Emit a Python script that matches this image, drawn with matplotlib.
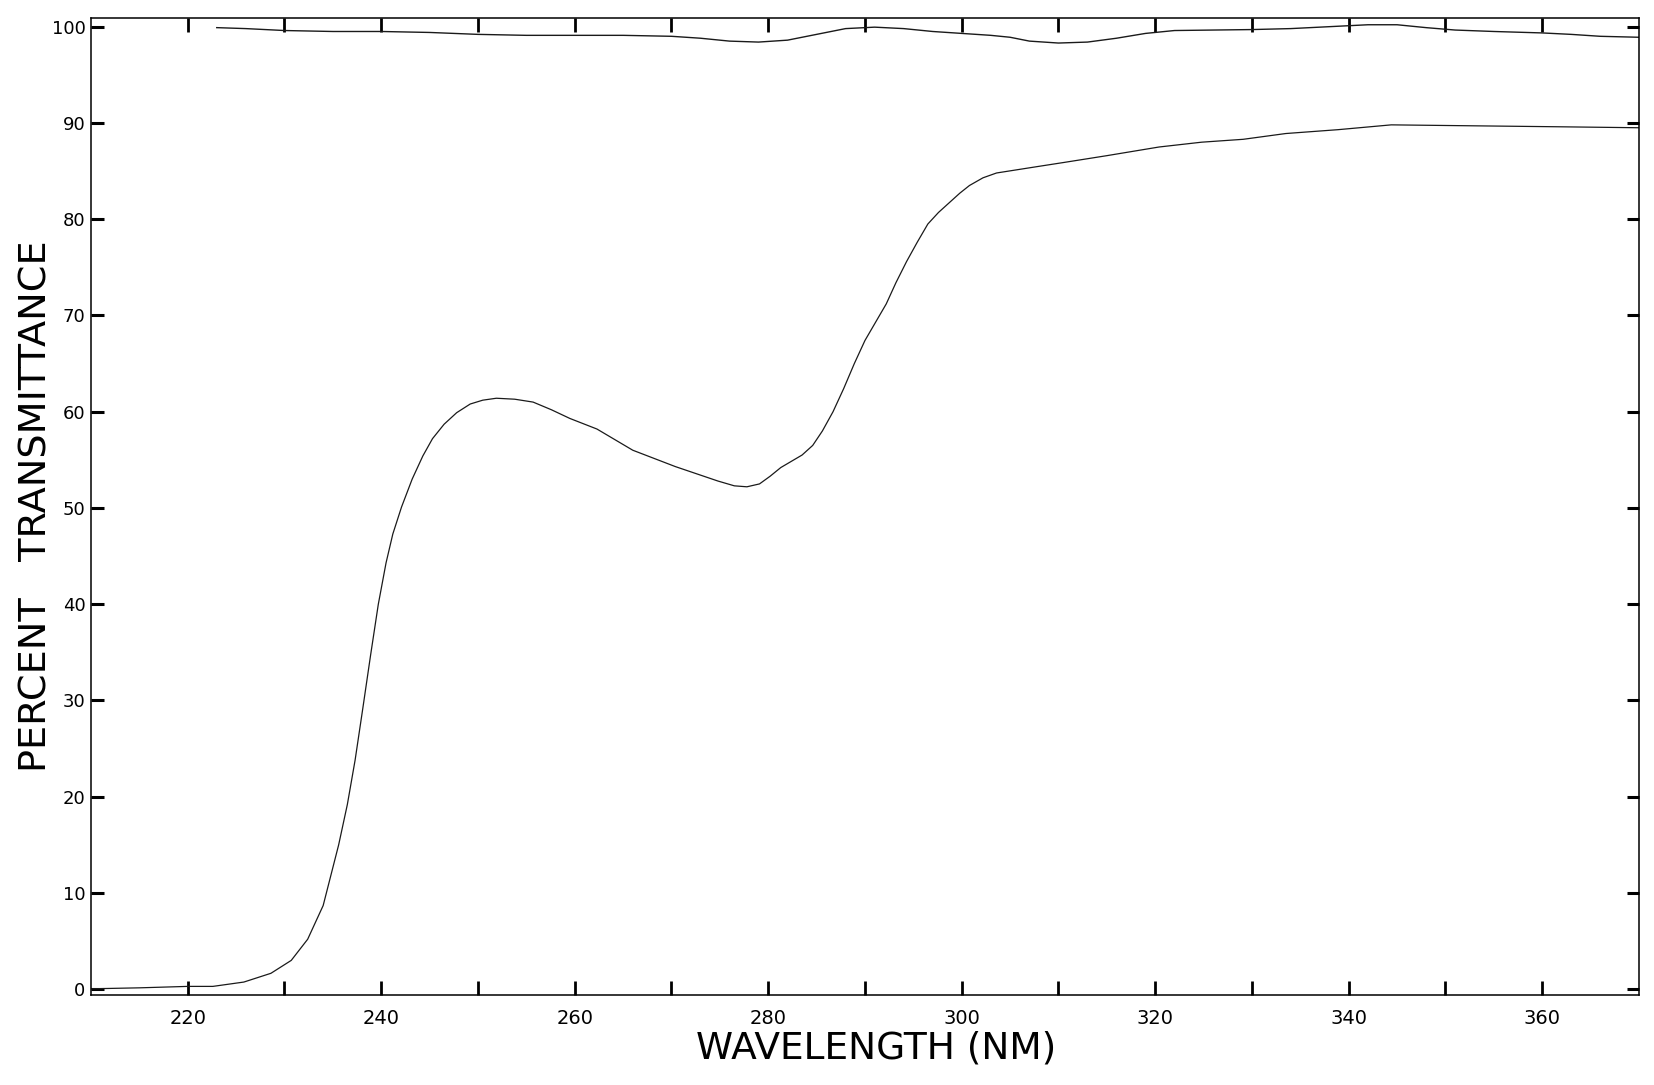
import matplotlib
matplotlib.use("Agg")
import matplotlib.pyplot as plt
from matplotlib.ticker import FixedLocator

# ---- data ----
wavelength_sample = [210, 215, 220, 222.6, 225.8, 228.6, 230.7, 232.4, 234.0, 235.6,
                     236.5, 237.3, 238.1, 238.9, 239.7, 240.5, 241.2, 242.1, 243.2,
                     244.3, 245.3, 246.5, 247.8, 249.2, 250.5, 251.9, 253.8, 255.7,
                     257.6, 259.5, 262.3, 266.0, 270.4, 274.8, 276.5, 277.8, 279.1,
                     280.2, 281.3, 283.5, 284.6, 285.6, 286.7, 287.8, 288.9, 290.0,
                     291.1, 292.2, 293.2, 294.3, 295.4, 296.5, 297.6, 298.7, 299.8,
                     300.8, 302.2, 303.6, 305.5, 307.4, 310.6, 315.0, 320.4, 324.8,
                     329.1, 333.5, 338.9, 344.4, 353.0, 361.8, 370.0]
transmittance_sample = [0.05, 0.15, 0.3, 0.3, 0.75, 1.66, 3.0, 5.2, 8.7, 15.0,
                        19.2, 23.8, 29.2, 34.7, 40.0, 44.3, 47.3, 50.1, 53.0,
                        55.4, 57.2, 58.7, 59.9, 60.8, 61.2, 61.4, 61.3, 61.0,
                        60.2, 59.3, 58.2, 56.0, 54.3, 52.8, 52.3, 52.2, 52.5,
                        53.3, 54.2, 55.5, 56.5, 58.0, 60.0, 62.4, 65.0, 67.4,
                        69.3, 71.2, 73.4, 75.6, 77.6, 79.5, 80.7, 81.7, 82.7,
                        83.5, 84.3, 84.8, 85.1, 85.4, 85.9, 86.6, 87.5, 88.0,
                        88.3, 88.9, 89.3, 89.8, 89.7, 89.6, 89.5]

wavelength_baseline = [223, 226, 230, 235, 240, 245, 250, 255, 260, 265, 270, 273,
                       276, 279, 282, 285, 288, 291, 294, 297, 300, 303, 305, 307,
                       310, 313, 316, 319, 322, 326, 330, 334, 338, 342, 345, 348,
                       351, 355, 360, 363, 366, 370]
transmittance_baseline = [99.9, 99.8, 99.6, 99.5, 99.5, 99.4, 99.2, 99.1, 99.1, 99.1,
                          99.0, 98.8, 98.5, 98.4, 98.6, 99.2, 99.8, 99.95, 99.8, 99.5,
                          99.3, 99.1, 98.9, 98.5, 98.3, 98.4, 98.8, 99.3, 99.6, 99.65,
                          99.7, 99.8, 100.0, 100.2, 100.2, 99.9, 99.65, 99.5, 99.35,
                          99.2, 99.0, 98.9]

x_ticks_labeled = [220, 240, 260, 280, 300, 320, 340, 360]
x_ticks_all = [220, 230, 240, 250, 260, 270, 280, 290, 300, 310, 320, 330, 340, 350, 360]
y_ticks = [0, 10, 20, 30, 40, 50, 60, 70, 80, 90, 100]

x_label = "WAVELENGTH (NM)"
y_label = "PERCENT   TRANSMITTANCE"

# ---- figure ----
plt.rcParams['font.family'] = ['DejaVu Sans']
fig = plt.figure(figsize=(16.54, 10.85), dpi=100)
ax = fig.add_axes([0.0550, 0.0829, 0.9359, 0.9005])

ax.plot(wavelength_sample, transmittance_sample, color='#1a1a1a', lw=0.9)
ax.plot(wavelength_baseline, transmittance_baseline, color='#1a1a1a', lw=1.0)

ax.set_xlim(210, 370)
ax.set_ylim(-0.6, 100.9)

ax.xaxis.set_major_locator(FixedLocator(x_ticks_labeled))
ax.xaxis.set_minor_locator(FixedLocator([t for t in x_ticks_all if t not in x_ticks_labeled]))
ax.yaxis.set_major_locator(FixedLocator(y_ticks))
ax.set_xticklabels([str(t) for t in x_ticks_labeled])
ax.set_yticklabels([str(t) for t in y_ticks])

ax.tick_params(axis='x', which='both', direction='in', top=True, bottom=True,
               length=10, width=2.0, labelsize=14, pad=10)
ax.tick_params(axis='y', which='both', direction='in', left=True, right=True,
               length=9, width=2.2, labelsize=13, pad=4)

for sp in ax.spines.values():
    sp.set_linewidth(1.1)

ax.set_xlabel(x_label, fontsize=27)
ax.xaxis.set_label_coords(0.507, -0.0542)
ax.xaxis.label.set_va('center')
ax.set_ylabel(y_label, fontsize=27.5)
ax.yaxis.set_label_coords(-0.0355, 0.5005)
ax.yaxis.label.set_va('center')
ax.yaxis.label.set_ha('center')

fig.savefig("out.png", dpi=100)
